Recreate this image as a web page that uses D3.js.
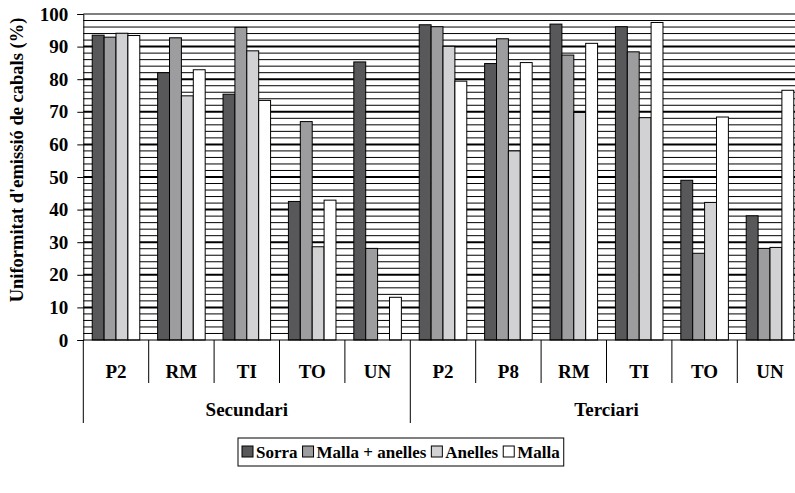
<!DOCTYPE html>
<html>
<head>
<meta charset="utf-8">
<script src="https://cdn.jsdelivr.net/npm/d3@7"></script>
<style>
  html, body { margin: 0; padding: 0; background: #fff; overflow: hidden; }
  svg { display: block; }
  text { font-family: "Liberation Serif", "Times New Roman", serif; font-weight: bold; fill: #000; }
</style>
</head>
<body>
<script>
// ---- data ----
const categories = ["P2", "RM", "TI", "TO", "UN", "P2", "P8", "RM", "TI", "TO", "UN"];
const groups = ["Secundari", "Secundari", "Secundari", "Secundari", "Secundari",
                "Terciari", "Terciari", "Terciari", "Terciari", "Terciari", "Terciari"];
const seriesNames = ["Sorra", "Malla + anelles", "Anelles", "Malla"];
const sorra         = [93.5, 82.0, 75.4, 42.5, 85.3, 96.7, 84.8, 96.9, 96.1, 49.0, 38.1];
const mallaAnelles  = [92.9, 92.7, 95.9, 67.0, 28.1, 96.1, 92.4, 87.4, 88.4, 26.6, 28.1];
const anelles       = [94.1, 74.9, 88.7, 28.6, 0,    90.1, 58.0, 69.8, 68.2, 42.2, 28.4];
const malla         = [93.4, 82.9, 73.5, 42.9, 13.1, 79.4, 85.1, 91.0, 97.4, 68.4, 76.6];
const yTicks = [0, 10, 20, 30, 40, 50, 60, 70, 80, 90, 100];
const yTitle = "Uniformitat d'emissió de cabals (%)";

const seriesValues = [sorra, mallaAnelles, anelles, malla];
const colors = ["#58585a", "#9d9d9f", "#d2d2d5", "#ffffff"];

// ---- layout ----
const W = 795, H = 493;
const pLeft = 83.3, pRight = 802.7, pTop = 14, pBottom = 340;

const svg = d3.select("body").append("svg").attr("width", W).attr("height", H);

const idx = d3.range(categories.length);
const x0 = d3.scaleBand().domain(idx).range([pLeft, pRight]).padding(0);
const x1 = d3.scaleBand().domain(d3.range(seriesNames.length))
  .range([0, x0.bandwidth()]).paddingInner(0).paddingOuter(0.75);
const y = d3.scaleLinear().domain([0, 100]).range([pBottom, pTop]);

// gridlines (minor every 2, major every 10)
const grid = svg.append("g");
d3.range(2, 101, 2).forEach(v => {
  const major = v % 10 === 0 && v !== 100;
  grid.append("line")
    .attr("x1", pLeft).attr("x2", pRight)
    .attr("y1", y(v)).attr("y2", y(v))
    .attr("stroke", "#000")
    .attr("stroke-width", major ? 2 : 1);
});

// bars
const gBars = svg.append("g");
idx.forEach(i => {
  seriesValues.forEach((vals, s) => {
    const v = vals[i];
    if (v <= 0) return;
    gBars.append("rect")
      .attr("x", x0(i) + x1(s))
      .attr("y", y(v))
      .attr("width", x1.bandwidth())
      .attr("height", y(0) - y(v))
      .attr("fill", colors[s])
      .attr("stroke", "#000")
      .attr("stroke-width", 1);
  });
});

// y axis
const yAxis = d3.axisLeft(y).tickValues(yTicks).tickSize(6).tickPadding(9).tickFormat(d3.format("d"));
const gy = svg.append("g").attr("transform", `translate(${pLeft},0)`).call(yAxis);
gy.select(".domain").attr("stroke", "#000").attr("stroke-width", 1);
gy.selectAll(".tick line").attr("stroke", "#000");
gy.selectAll(".tick text").style("font-size", "19px").style("font-family", "Liberation Serif").style("font-weight", "bold");

// x baseline
svg.append("line").attr("x1", pLeft).attr("x2", pRight)
  .attr("y1", y(0)).attr("y2", y(0)).attr("stroke", "#000").attr("stroke-width", 1.2);

// category separators
const gx = svg.append("g");
idx.forEach(i => {
  const xs = x0(i);
  const isGroupStart = i === 0 || groups[i] !== groups[i - 1];
  gx.append("line").attr("x1", xs).attr("x2", xs)
    .attr("y1", y(0)).attr("y2", isGroupStart ? 423 : 383)
    .attr("stroke", "#000").attr("stroke-width", 1);
  gx.append("text")
    .attr("x", xs + x0.bandwidth() / 2).attr("y", 378)
    .attr("text-anchor", "middle").style("font-size", "19px")
    .text(categories[i]);
});
gx.append("line").attr("x1", pRight).attr("x2", pRight)
  .attr("y1", y(0)).attr("y2", 423).attr("stroke", "#000");

// group labels
const groupNames = Array.from(new Set(groups));
groupNames.forEach(gname => {
  const members = idx.filter(i => groups[i] === gname);
  const gx0 = x0(members[0]);
  const gx1 = x0(members[members.length - 1]) + x0.bandwidth();
  svg.append("text").attr("x", (gx0 + gx1) / 2).attr("y", 416)
    .attr("text-anchor", "middle").style("font-size", "19px").text(gname);
});

// y title
svg.append("text")
  .attr("transform", `translate(23,160) rotate(-90)`)
  .attr("text-anchor", "middle").style("font-size", "18.5px")
  .text(yTitle);

// legend
const legend = svg.append("g");
const legendItems = legend.append("g");
let cx = 0;
seriesNames.forEach((name, s) => {
  const it = legendItems.append("g").attr("transform", `translate(${cx},0)`);
  it.append("rect").attr("x", 0).attr("y", -12).attr("width", 11).attr("height", 11)
    .attr("fill", colors[s]).attr("stroke", "#000").attr("stroke-width", 1);
  const t = it.append("text").attr("x", 14).attr("y", 0).style("font-size", "17px").text(name);
  cx += 14 + t.node().getComputedTextLength() + 5;
});
const lw = cx - 5 + 8;
const lx = 238, ly = 438;
legend.insert("rect", ":first-child")
  .attr("x", lx).attr("y", ly).attr("width", lw).attr("height", 28)
  .attr("fill", "#fff").attr("stroke", "#000").attr("stroke-width", 1);
legendItems.attr("transform", `translate(${lx + 4},${ly + 20})`);
</script>
</body>
</html>
